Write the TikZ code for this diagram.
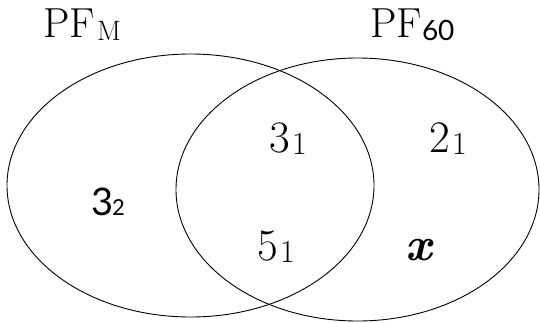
\documentclass[tikz,border=0pt]{standalone}
\usepackage{fontspec}
\setmainfont{Latin Modern Roman}
\newfontfamily\sansf{Lato}
\tikzset{
  lbl/.style={anchor=base west, inner sep=0pt, outer sep=0pt},
  ring/.style={draw=black, line width=0.9pt},
}
\newcommand{\fsz}[1]{\fontsize{#1}{#1}\selectfont}
\begin{document}
\begin{tikzpicture}[x=1pt,y=-1pt]
\useasboundingbox (0,0) rectangle (540,322);
% circles
\draw[ring] (190.5,185.5) ellipse [x radius=183.5pt, y radius=131.5pt];
\draw[ring] (357.5,189.5) ellipse [x radius=181.5pt, y radius=131.5pt];
% titles
\node[lbl] (pfm) at (43,37) {\fsz{42}PF};
\node[lbl] (pfmsub) at (97,40) {\fsz{28}M};
\node[lbl] (pf60) at (370,37) {\fsz{42}PF};
\node[lbl] (pf60sub) at (422,40) {\sansf\fsz{28}60};
% region labels
\node[lbl] (t31) at (269,152) {\fsz{45}3};
\node[lbl] (t31s) at (292,154) {\fsz{32}1};
\node[lbl] (t21) at (429,152) {\fsz{45}2};
\node[lbl] (t21s) at (452,154) {\fsz{32}1};
\node[lbl] (t51) at (257,260) {\fsz{45}5};
\node[lbl] (t51s) at (280,262) {\fsz{32}1};
\node[lbl] (tx) at (405,260) {\fsz{47}\bfseries\itshape x};
\node[lbl] (t32) at (91,215) {\sansf\fsz{38}3};
\node[lbl] (t32s) at (112,215) {\sansf\fsz{22}2};
\end{tikzpicture}
\end{document}
